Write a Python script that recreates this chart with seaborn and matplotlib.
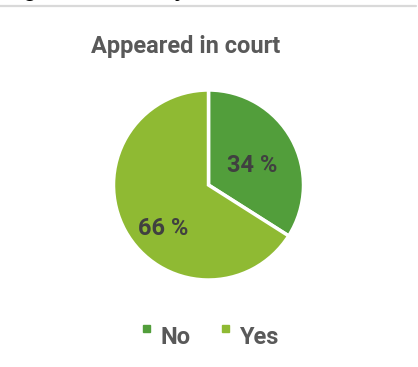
import matplotlib
matplotlib.use("Agg")
import matplotlib.pyplot as plt
from matplotlib.patches import Rectangle
from matplotlib.legend_handler import HandlerPatch
import seaborn as sns

sns.set_theme(style="white")
plt.rcParams["font.family"] = ["Roboto", "DejaVu Sans"]

# Data
categories = ["No", "Yes"]
shares = [34, 66]
colors = ["#529E3B", "#8FBA33"]
title = "Appeared in court"

W, H = 418, 367
fig = plt.figure(figsize=(W / 100, H / 100), dpi=100)
fig.patch.set_facecolor("white")

# Header rule and the tail of the heading above it
fig.add_artist(plt.Line2D([0, 416 / W], [1 - 6 / H, 1 - 6 / H], color="#D9D9D9", lw=1.6,
                          transform=fig.transFigure))
fig.text(22 / W, 1 + 4 / H, "g", color="black", fontsize=18, fontweight="bold", va="baseline")
fig.text(174 / W, 1 + 4 / H, "y", color="black", fontsize=18, fontweight="bold", va="baseline")

# Pie axes
cx, cy, r = 208.5, 185, 95
ax = fig.add_axes([(cx - r) / W, 1 - (cy + r) / H, 2 * r / W, 2 * r / H])
wedges, texts, autotexts = ax.pie(
    shares, colors=colors, startangle=90, counterclock=False,
    autopct=lambda p: f"{p:.0f} %", pctdistance=0.55,
    wedgeprops=dict(edgecolor="white", linewidth=2.5),
    textprops=dict(color="#404040", fontsize=17, fontweight="bold"),
)
label_pos = [(0.455, 0.21), (-0.479, -0.453)]
for t, (x, y) in zip(autotexts, label_pos):
    t.set_position((x, y))
    t.set_ha("center")
    t.set_va("center")
ax.set_xlim(-1.0, 1.0)
ax.set_ylim(-1.0, 1.0)
ax.set_aspect("equal")
ax.axis("off")

fig.text(186 / W, 1 - 47 / H, title, color="#595959", fontsize=17, fontweight="bold",
         ha="center", va="center")


# Legend: small squares aligned with the top of the label text
def top_square(legend, orig_handle, xdescent, ydescent, width, height, fontsize):
    s = width
    return Rectangle((-xdescent, -ydescent + height - s * 0.55), s, s)


leg = fig.legend(
    [Rectangle((0, 0), 1, 1, color=c) for c in colors], categories,
    loc="center", bbox_to_anchor=(211 / W, 1 - 338 / H), ncol=2, frameon=False,
    handlelength=0.3, handleheight=0.7, handletextpad=0.45, columnspacing=1.3,
    handler_map={Rectangle: HandlerPatch(patch_func=top_square)},
    prop=dict(family="Roboto", weight="bold", size=17),
)
for t in leg.get_texts():
    t.set_color("#595959")

fig.savefig("out.png", dpi=100, facecolor="white")
